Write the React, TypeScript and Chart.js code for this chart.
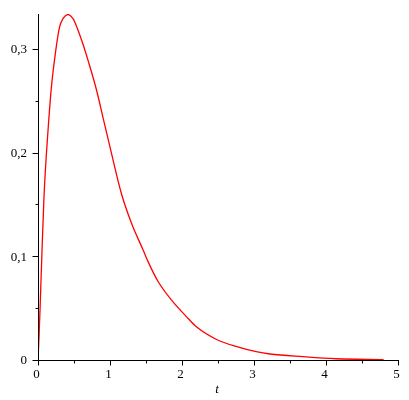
import { useEffect, useRef } from 'react';
import { Chart, registerables } from 'chart.js';

Chart.register(...registerables);

const tValues = [0, 0.014, 0.028, 0.056, 0.083, 0.117, 0.149, 0.186, 0.246, 0.3, 0.347, 0.417, 0.486, 0.533, 0.617, 0.694, 0.81, 0.912, 1.011, 1.16, 1.3, 1.46, 1.53, 1.67, 1.855, 2.086, 2.2, 2.48, 2.76, 3.03, 3.22, 3.68, 4.14, 4.8];
const yValues = [0, 0.022, 0.048, 0.106, 0.157, 0.199, 0.231, 0.263, 0.298, 0.321, 0.329, 0.333, 0.329, 0.322, 0.306, 0.289, 0.261, 0.231, 0.202, 0.16, 0.1316, 0.106, 0.0946, 0.0754, 0.0577, 0.04, 0.032, 0.0198, 0.0128, 0.008, 0.0058, 0.0032, 0.0012, 0.0004];

const xMajorTicks = [0, 1, 2, 3, 4, 5];
const xTickLabels = ['0', '1', '2', '3', '4', '5'];
const xMinorTicks = [0.5, 1.5, 2.5, 3.5, 4.5];
const yMajorTicks = [0, 0.1, 0.2, 0.3];
const yTickLabels = ['0', '0,1', '0,2', '0,3'];
const yMinorTicks = [0.05, 0.15, 0.25];
const xTitle = 't';

const axesPlugin = {
  id: 'mapleAxes',
  afterDraw(chart: any) {
    const ctx = chart.ctx;
    const area = chart.chartArea;
    const xs = chart.scales.x;
    const ys = chart.scales.y;
    const x0 = Math.round(area.left) + 0.5;
    const y0 = Math.round(area.bottom) + 0.5;
    ctx.save();
    ctx.strokeStyle = '#000';
    ctx.lineWidth = 1;
    ctx.beginPath();
    ctx.moveTo(x0, Math.round(area.top));
    ctx.lineTo(x0, y0);
    ctx.lineTo(Math.round(area.right) + 1, y0);
    xMajorTicks.forEach((v) => {
      const px = Math.round(xs.getPixelForValue(v)) + 0.5;
      ctx.moveTo(px, y0);
      ctx.lineTo(px, y0 + 5);
    });
    xMinorTicks.forEach((v) => {
      const px = Math.round(xs.getPixelForValue(v)) + 0.5;
      ctx.moveTo(px, y0);
      ctx.lineTo(px, y0 + 3);
    });
    yMajorTicks.forEach((v) => {
      const py = Math.round(ys.getPixelForValue(v)) + 0.5;
      ctx.moveTo(x0, py);
      ctx.lineTo(x0 - 6, py);
    });
    yMinorTicks.forEach((v) => {
      const py = Math.round(ys.getPixelForValue(v)) + 0.5;
      ctx.moveTo(x0, py);
      ctx.lineTo(x0 - 3, py);
    });
    ctx.stroke();

    ctx.fillStyle = '#000';
    ctx.font = '13px "Liberation Serif", "DejaVu Serif", serif';
    ctx.textAlign = 'center';
    ctx.textBaseline = 'middle';
    xMajorTicks.forEach((v, i) => {
      const px = xs.getPixelForValue(v) - 1.5;
      ctx.fillText(xTickLabels[i], px, area.bottom + 15);
    });
    ctx.textAlign = 'right';
    yMajorTicks.forEach((v, i) => {
      const py = ys.getPixelForValue(v) + 1;
      ctx.fillText(yTickLabels[i], area.left - 11, py);
    });
    ctx.textAlign = 'center';
    ctx.font = 'italic 13px "Liberation Serif", "DejaVu Serif", serif';
    ctx.fillText(xTitle, (area.left + area.right) / 2 - 1, area.bottom + 30);
    ctx.restore();
  },
};

export default function App() {
  const canvasRef = useRef<HTMLCanvasElement | null>(null);

  useEffect(() => {
    document.body.style.margin = '0';
    const canvas = canvasRef.current;
    if (!canvas) return;
    const chart = new Chart(canvas, {
      type: 'line',
      data: {
        datasets: [
          {
            data: tValues.map((t, i) => ({ x: t, y: yValues[i] })),
            borderColor: '#ff0000',
            borderWidth: 1.3,
            pointRadius: 0,
            fill: false,
            cubicInterpolationMode: 'monotone',
          },
        ],
      },
      options: {
        responsive: false,
        animation: false,
        devicePixelRatio: 1,
        layout: { padding: { left: 38, top: 14, right: 11, bottom: 40 } },
        plugins: { legend: { display: false }, tooltip: { enabled: false } },
        scales: {
          x: { type: 'linear', min: 0, max: 5, display: false },
          y: { type: 'linear', min: 0, max: 0.3335, display: false },
        },
      },
      plugins: [axesPlugin],
    });
    return () => chart.destroy();
  }, []);

  return (
    <div style={{ width: 409, height: 400, background: '#fff' }}>
      <canvas ref={canvasRef} width={409} height={400} style={{ width: 409, height: 400, display: 'block' }} />
    </div>
  );
}
